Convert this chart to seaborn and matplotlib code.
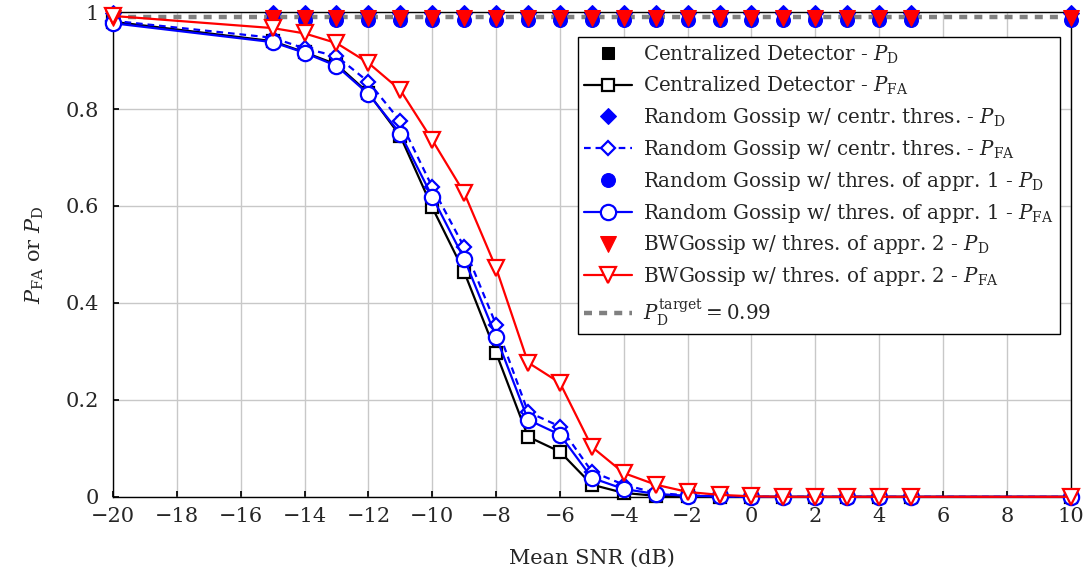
import matplotlib

matplotlib.use("Agg")
import matplotlib.pyplot as plt
import seaborn as sns

sns.set_theme(style="whitegrid")
plt.rcParams["font.family"] = ["DejaVu Serif"]
plt.rcParams["mathtext.fontset"] = "dejavuserif"

# Mean SNR (dB) sample points
SNR_DB = [-20, -15, -14, -13, -12, -11, -10, -9, -8, -7, -6, -5, -4, -3, -2, -1, 0, 1, 2, 3, 4, 5, 10]

# detection probabilities (all saturate near 1)
PD_CENTRAL = [0.99] * 23
PD_GOSSIP_CENTR = [0.998] * 23
PD_GOSSIP_APPR1 = [0.984] * 23
PD_BWGOSSIP = [0.988] * 23

# false alarm probabilities
PFA_CENTRAL = [0.980, 0.940, 0.917, 0.892, 0.833, 0.744, 0.597, 0.464, 0.297, 0.124, 0.093, 0.025,
               0.008, 0.002, 0.001, 0.0, 0.0, 0.0, 0.0, 0.0, 0.0, 0.0, 0.0]
PFA_GOSSIP_CENTR = [0.982, 0.947, 0.925, 0.909, 0.856, 0.775, 0.639, 0.515, 0.355, 0.175, 0.145, 0.052,
                    0.025, 0.008, 0.003, 0.001, 0.0, 0.0, 0.0, 0.0, 0.0, 0.0, 0.0]
PFA_GOSSIP_APPR1 = [0.977, 0.938, 0.916, 0.889, 0.831, 0.749, 0.619, 0.491, 0.330, 0.159, 0.128, 0.039,
                    0.016, 0.006, 0.002, 0.001, 0.0, 0.0, 0.0, 0.0, 0.0, 0.0, 0.0]
PFA_BWGOSSIP = [0.992, 0.967, 0.956, 0.936, 0.895, 0.839, 0.736, 0.627, 0.472, 0.277, 0.235, 0.103,
                0.049, 0.025, 0.010, 0.004, 0.001, 0.0, 0.0, 0.0, 0.0, 0.0, 0.0]

PD_TARGET = 0.99

fig = plt.figure(figsize=(10.87, 5.75), dpi=100)
ax = fig.add_axes([0.104, 0.136, 0.881, 0.843])

# target line goes behind everything
ax.axhline(PD_TARGET, color="#808080", linewidth=3.2, linestyle=(0, (1.8, 1.6)), zorder=1.5,
           label=r"$P_{\mathrm{D}}^{\mathrm{target}} = 0.99$")

lw = 1.6
mew = 1.6

# Centralized detector
sns.lineplot(x=SNR_DB, y=PD_CENTRAL, ax=ax, color="black", linestyle="none", marker="s",
             markersize=9, markeredgecolor="black", label=r"Centralized Detector - $P_{\mathrm{D}}$",
             clip_on=False, zorder=3)
sns.lineplot(x=SNR_DB, y=PFA_CENTRAL, ax=ax, color="black", linewidth=lw, marker="s", markersize=9,
             markerfacecolor="white", markeredgecolor="black", markeredgewidth=mew,
             label=r"Centralized Detector - $P_{\mathrm{FA}}$", clip_on=False, zorder=3)

# Random gossip, centralized threshold
sns.lineplot(x=SNR_DB, y=PD_GOSSIP_CENTR, ax=ax, color="blue", linestyle="none", marker="D",
             markersize=8, markeredgecolor="blue",
             label=r"Random Gossip w/ centr. thres. - $P_{\mathrm{D}}$", clip_on=False, zorder=3)
sns.lineplot(x=SNR_DB, y=PFA_GOSSIP_CENTR, ax=ax, color="blue", linewidth=lw, linestyle=(0, (3, 2.2)),
             marker="D", markersize=7.5, markerfacecolor="white", markeredgecolor="blue",
             markeredgewidth=mew, label=r"Random Gossip w/ centr. thres. - $P_{\mathrm{FA}}$",
             clip_on=False, zorder=3)

# Random gossip, threshold of approach 1
sns.lineplot(x=SNR_DB, y=PD_GOSSIP_APPR1, ax=ax, color="blue", linestyle="none", marker="o",
             markersize=10, markeredgecolor="blue",
             label=r"Random Gossip w/ thres. of appr. 1 - $P_{\mathrm{D}}$", clip_on=False, zorder=3)
sns.lineplot(x=SNR_DB, y=PFA_GOSSIP_APPR1, ax=ax, color="blue", linewidth=lw, marker="o",
             markersize=11, markerfacecolor="white", markeredgecolor="blue", markeredgewidth=mew,
             label=r"Random Gossip w/ thres. of appr. 1 - $P_{\mathrm{FA}}$", clip_on=False, zorder=3)

# BWGossip, threshold of approach 2
sns.lineplot(x=SNR_DB, y=PD_BWGOSSIP, ax=ax, color="red", linestyle="none", marker="v",
             markersize=12, markeredgecolor="red",
             label=r"BWGossip w/ thres. of appr. 2 - $P_{\mathrm{D}}$", clip_on=False, zorder=3)
sns.lineplot(x=SNR_DB, y=PFA_BWGOSSIP, ax=ax, color="red", linewidth=lw, marker="v",
             markersize=11, markerfacecolor="white", markeredgecolor="red", markeredgewidth=mew,
             label=r"BWGossip w/ thres. of appr. 2 - $P_{\mathrm{FA}}$", clip_on=False, zorder=3)

ax.set_xlim(-20, 10)
ax.set_ylim(0, 1)
ax.set_xticks(list(range(-20, 11, 2)))
ax.set_yticks([0, 0.2, 0.4, 0.6, 0.8, 1])
ax.set_yticklabels(["0", "0.2", "0.4", "0.6", "0.8", "1"])
ax.tick_params(axis="both", labelsize=15, direction="in", length=4, color="black",
               bottom=True, left=True)
ax.tick_params(axis="x", pad=7)
ax.tick_params(axis="y", pad=10)
ax.grid(True, color="#c8c8c8", linewidth=1.0)
for spine in ax.spines.values():
    spine.set_edgecolor("black")
    spine.set_linewidth(1.0)

ax.set_xlabel("Mean SNR (dB)", fontsize=15, labelpad=17)
ax.set_ylabel(r"$P_{\mathrm{FA}}$ or $P_{\mathrm{D}}$", fontsize=15, labelpad=14)

handles, labels = ax.get_legend_handles_labels()
# target line listed last
handles = handles[1:] + handles[:1]
labels = labels[1:] + labels[:1]
leg = ax.legend(handles, labels, loc="upper right", bbox_to_anchor=(0.9885, 0.948), fontsize=14.3,
                frameon=True, fancybox=False, framealpha=1, edgecolor="black", handlelength=2.4,
                handletextpad=0.6, borderpad=0.3, labelspacing=0.45, borderaxespad=0)
leg.get_frame().set_linewidth(1.0)
leg.set_zorder(5)

fig.savefig("out.png", dpi=100)
